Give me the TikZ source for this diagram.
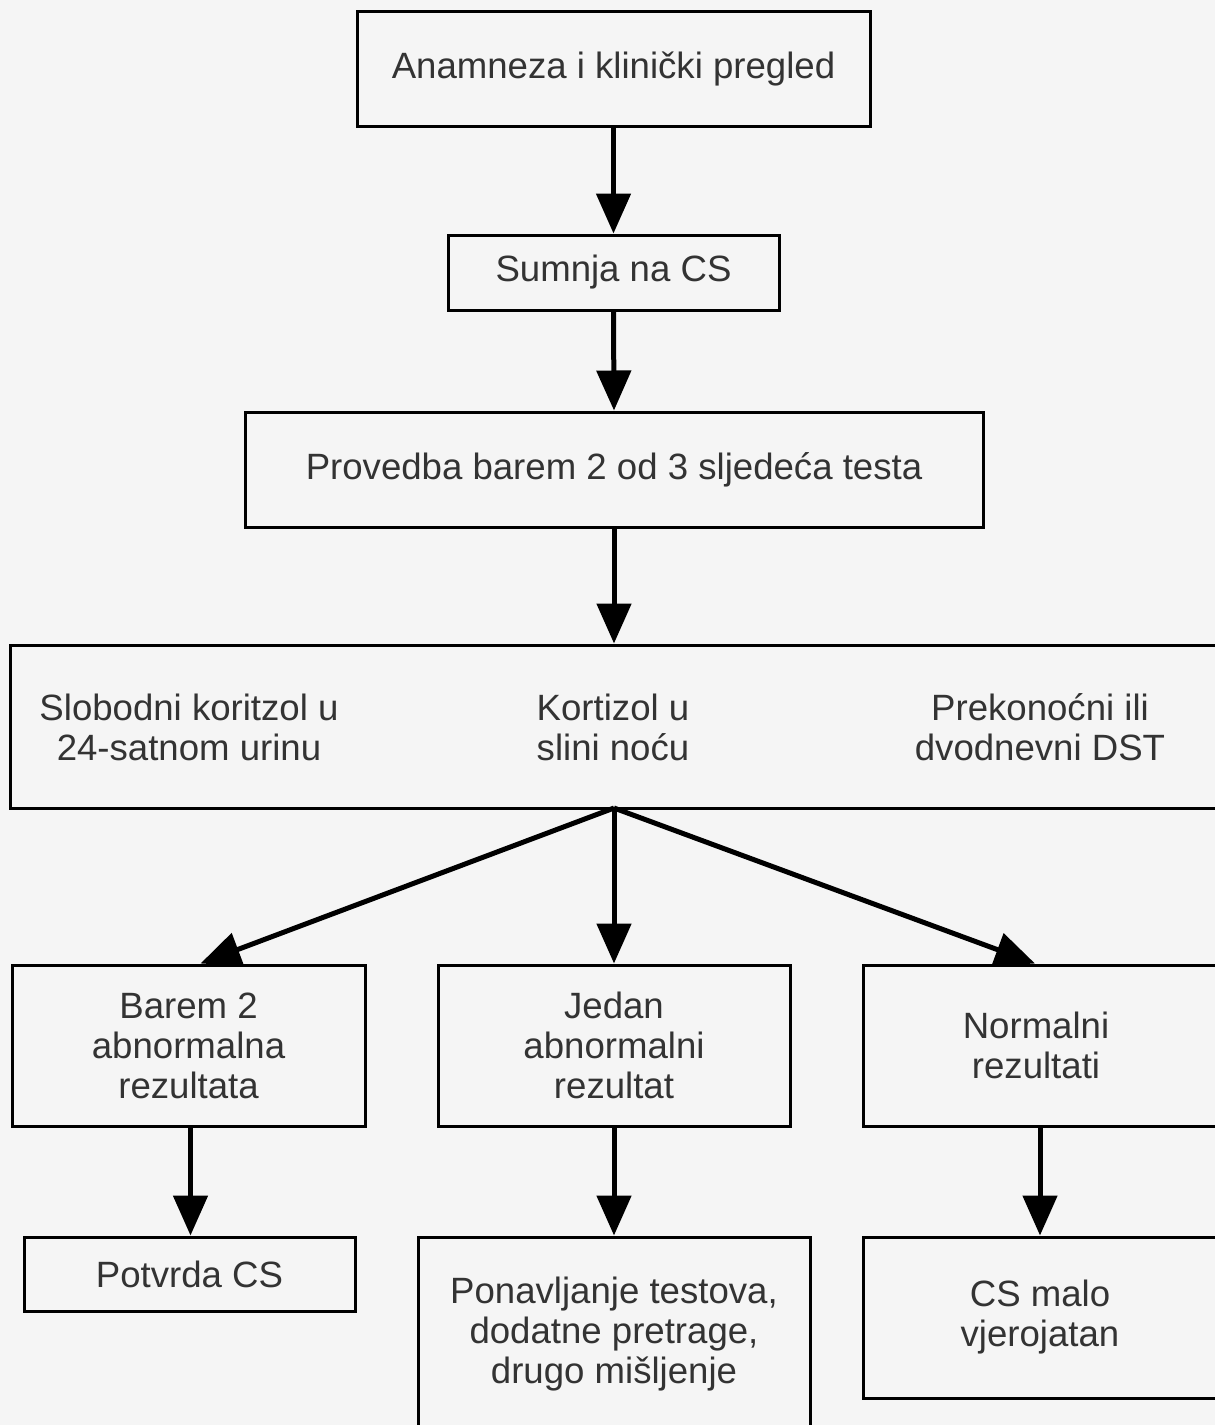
\documentclass[tikz,border=0pt]{standalone}
\usepackage{fontspec}
\setmainfont{Liberation Sans}
\usetikzlibrary{arrows.meta}
\definecolor{bg}{HTML}{F5F5F5}
\definecolor{txt}{HTML}{333333}
\begin{document}
\begin{tikzpicture}[x=0.5pt,y=-0.5pt,
  box/.style={draw=black,line width=1.5pt,fill=bg,rectangle,inner sep=0pt,
    text=txt,align=center,font=\fontsize{18.3pt}{20pt}\selectfont},
  lbl/.style={text=txt,align=center,inner sep=0pt,font=\fontsize{18.3pt}{20pt}\selectfont},
  arr/.style={line width=2.5pt,-{Triangle[width=17pt,length=20pt]}}]
\useasboundingbox (0,0) rectangle (1215,1425);
\fill[bg] (0,0) rectangle (1215,1425);
\clip (0,0) rectangle (1215,1425);
\node[box,minimum width=256.5pt,minimum height=57.5pt] (b1) at (613.5,68.5) {Anamneza i klinički pregled};
\node[box,minimum width=165.5pt,minimum height=37.5pt] (b2) at (613.5,272.5) {Sumnja na CS};
\node[box,minimum width=369pt,minimum height=57.5pt] (b3) at (614,469.5) {Provedba barem 2 od 3 sljedeća testa};
\node[box,minimum width=607.5pt,minimum height=81.5pt] (b4) at (617.5,726.5) {};
\node[lbl] (t1) at (189,727) {Slobodni koritzol u\\ 24-satnom urinu};
\node[lbl] (t2) at (613,727) {Kortizol u\\slini noću};
\node[lbl] (t3) at (1040,727) {Prekonoćni ili\\dvodnevni DST};
\node[box,minimum width=176.5pt,minimum height=80.5pt] (b5) at (188.5,1045.5) {Barem 2\\abnormalna\\rezultata};
\node[box,minimum width=176pt,minimum height=80.5pt] (b6) at (614,1045.5) {Jedan\\abnormalni\\rezultat};
\node[box,minimum width=181pt,minimum height=80.5pt] (b7) at (1044,1045.5) {};
\node[lbl] (t7) at (1036,1045) {Normalni\\rezultati};
\node[box,minimum width=165.5pt,minimum height=37pt] (b8) at (189.5,1274) {Potvrda CS};
\node[box,minimum width=196pt,minimum height=97pt] (b9) at (614,1334) {Ponavljanje testova,\\dodatne pretrage,\\drugo mišljenje};
\node[box,minimum width=181pt,minimum height=80.5pt] (b10) at (1044,1317.5) {};
\node[lbl] (t10) at (1040,1317) {CS malo\\vjerojatan};
\coordinate (fan) at (614,808);
\draw[arr] (b1.south) -- (b2.north);
\draw[arr] (b2.south) -- (b3.north);
\draw[arr] (b3.south) -- (b3.south |- b4.north);
\draw[arr] (fan) -- ([xshift=6pt]b5.north);
\draw[arr] (fan) -- (b6.north);
\draw[arr] (fan) -- ([xshift=-4.5pt]b7.north);
\draw[arr] ([xshift=1pt]b5.south) -- ([xshift=1pt]b5.south |- b8.north);
\draw[arr] (b6.south) -- (b9.north);
\draw[arr] ([xshift=-2pt]b7.south) -- ([xshift=-2pt]b7.south |- b10.north);
\end{tikzpicture}
\end{document}
